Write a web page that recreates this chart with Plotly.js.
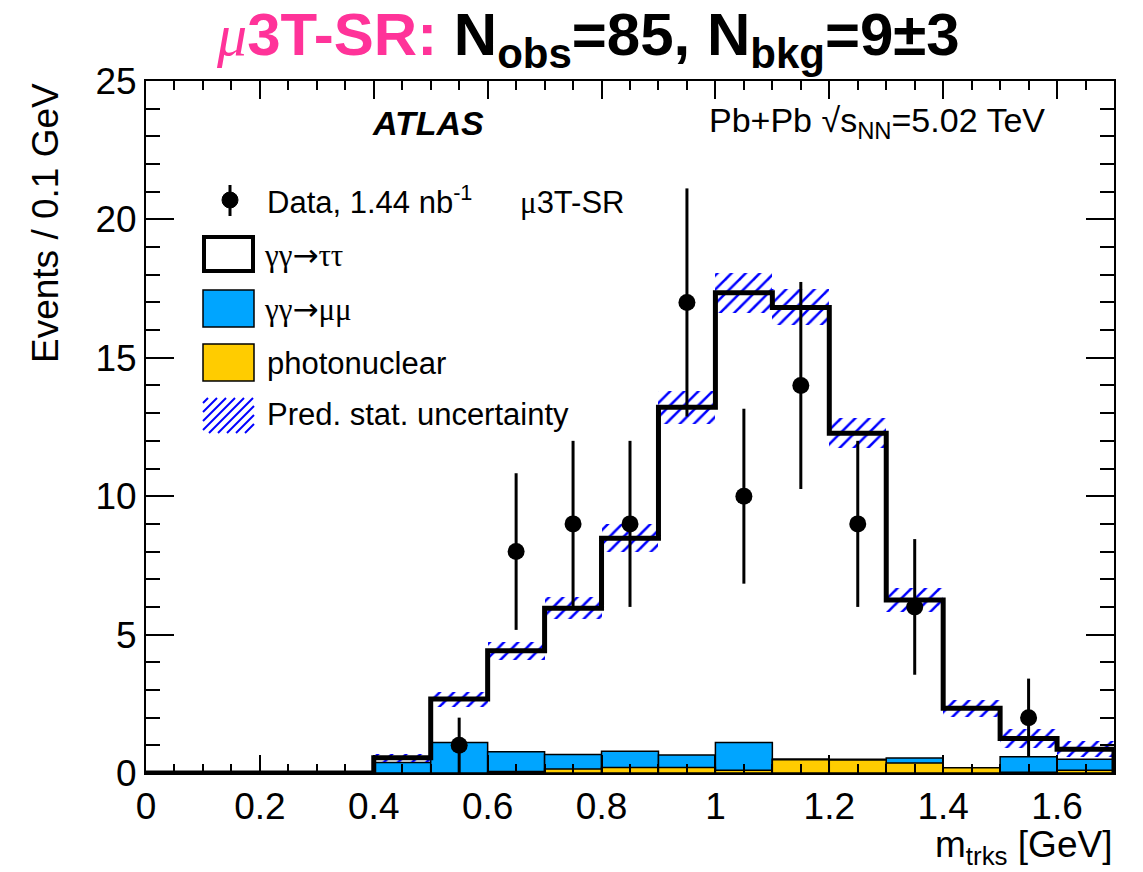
<!DOCTYPE html>
<html>
<head>
<meta charset="utf-8">
<script src="https://cdn.plot.ly/plotly-3.0.1.min.js"></script>
<style>html,body{margin:0;padding:0;background:#fff;}#chart{width:1143px;height:872px;}</style>
</head>
<body>
<div id="chart"></div>
<script>
// ---- data (bins of 0.1 GeV from 0 to 1.7 GeV) ----
const binCenters = [0.05,0.15,0.25,0.35,0.45,0.55,0.65,0.75,0.85,0.95,1.05,1.15,1.25,1.35,1.45,1.55,1.65];
const photonuclear = [0,0,0,0,0,0,0.05,0.14,0.2,0.2,0.1,0.48,0.47,0.36,0.19,0.03,0.1];
const gammaMuMu   = [0,0,0,0,0.38,1.10,0.72,0.53,0.59,0.45,1.0,0.03,0.03,0.18,0,0.56,0.4];
const gammaTauTau = [0,0,0,0,0.17,1.57,3.65,5.28,7.69,12.56,16.25,16.31,11.77,5.71,2.15,0.66,0.36];
const predStatUnc = [0,0,0,0,0.15,0.27,0.33,0.4,0.5,0.6,0.72,0.65,0.54,0.42,0.3,0.33,0.28];
const dataCounts  = [0,0,0,0,0,1,8,9,9,17,10,14,9,6,0,2,0];
const dataErrors  = [0,0,0,0,0,1,2.83,3,3,4.12,3.16,3.74,3,2.45,0,1.41,0];
const binWidth = 0.1;

// ---- derived stacks ----
const nz = v => (v > 0 ? v : null);
const lowStack = photonuclear.map((v,i)=>v);
const midStack = photonuclear.map((v,i)=>v + gammaMuMu[i]);
const total = midStack.map((v,i)=>v + gammaTauTau[i]);

// step outline of total prediction
const stepX = binCenters.map(c=>c - binWidth/2);
stepX.push(binCenters[binCenters.length-1] + binWidth/2);
stepX.push(binCenters[binCenters.length-1] + binWidth/2);
const stepY = total.slice();
stepY.push(total[total.length-1]);
stepY.push(0);

// data points (only non-empty bins)
const dX = [], dY = [], dE = [];
dataCounts.forEach((v,i)=>{ if(v>0){ dX.push(binCenters[i]); dY.push(v); dE.push(dataErrors[i]); } });

const BLUE = 'rgb(0,165,255)';
const YELLOW = 'rgb(255,204,0)';
const PINK = 'rgb(255,51,153)';
const FONT = 'Liberation Sans, Arial, Helvetica, sans-serif';
const SERIF = 'Liberation Serif, Times New Roman, serif';
const ARROW = "<span style='font-family:DejaVu Sans'>→</span>";

const traces = [
  { type:'bar', x:binCenters, y:midStack.map(nz), width:binWidth,
    marker:{color:BLUE, line:{color:'black', width:1.5}}, hoverinfo:'skip', showlegend:false },
  { type:'bar', x:binCenters, y:lowStack.map(nz), width:binWidth,
    marker:{color:YELLOW, line:{color:'black', width:1.5}}, hoverinfo:'skip', showlegend:false },
  { type:'scatter', mode:'lines', x:stepX, y:stepY,
    line:{color:'black', width:5, shape:'hv'}, hoverinfo:'skip', showlegend:false },
  { type:'bar', x:binCenters,
    base: total.map((v,i)=> predStatUnc[i]>0 ? v - predStatUnc[i] : null),
    y: predStatUnc.map(u=> u>0 ? 2*u : null), width:binWidth,
    marker:{color:'rgba(0,0,0,0)', line:{width:0},
      pattern:{shape:'/', fgcolor:'rgb(0,0,255)', fgopacity:1, bgcolor:'rgba(0,0,0,0)', size:10, solidity:0.25, fillmode:'overlay'}},
    hoverinfo:'skip', showlegend:false },
  { type:'scatter', mode:'markers', x:dX, y:dY,
    error_y:{type:'data', array:dE, visible:true, color:'black', thickness:3, width:0},
    marker:{color:'black', size:17}, hoverinfo:'skip', showlegend:false }
];

// ---- pixel helpers (plot area) ----
const L=146, R=1114, T=81, B=773;
const px = x => (x-L)/(R-L);
const py = y => (B-y)/(B-T);

const annotations = [
  { text:"<b><span style='color:"+PINK+"'><span style='font-family:"+SERIF+";font-style:italic;font-weight:normal'>μ</span>3T-SR:</span> N<sub>obs</sub>=85, N<sub>bkg</sub>=9±3</b>",
    x:px(588), y:py(39), xanchor:'center', yanchor:'middle', font:{family:FONT, size:60, color:'black'} },
  { text:"<b><i>ATLAS</i></b>", x:px(370), y:py(123), xanchor:'left', yanchor:'middle', font:{family:FONT, size:34, color:'black'} },
  { text:"Pb+Pb √s<sub>NN</sub>=5.02 TeV", x:px(707), y:py(122), xanchor:'left', yanchor:'middle', font:{family:FONT, size:34, color:'black'} },
  { text:"Data, 1.44 nb<sup>-1</sup>", x:px(265), y:py(200), xanchor:'left', yanchor:'middle', font:{family:FONT, size:31, color:'black'} },
  { text:"<span style='font-family:"+SERIF+"'>μ</span>3T-SR", x:px(518), y:py(202), xanchor:'left', yanchor:'middle', font:{family:FONT, size:31, color:'black'} },
  { text:"γγ"+ARROW+"ττ", x:px(262), y:py(255), xanchor:'left', yanchor:'middle', font:{family:SERIF, size:31, color:'black'} },
  { text:"γγ"+ARROW+"μμ", x:px(262), y:py(309), xanchor:'left', yanchor:'middle', font:{family:SERIF, size:31, color:'black'} },
  { text:"photonuclear", x:px(265), y:py(363), xanchor:'left', yanchor:'middle', font:{family:FONT, size:31, color:'black'} },
  { text:"Pred. stat. uncertainty", x:px(265), y:py(414), xanchor:'left', yanchor:'middle', font:{family:FONT, size:31, color:'black'} },
  { text:"m<sub>trks</sub> [GeV]", x:px(1114), y:py(847), xanchor:'right', yanchor:'middle', font:{family:FONT, size:37, color:'black'} },
  { text:"Events / 0.1 GeV", x:px(45), y:py(81), xanchor:'center', yanchor:'top', textangle:-90, font:{family:FONT, size:37, color:'black'} }
];
annotations.forEach(a=>{ a.xref='paper'; a.yref='paper'; a.showarrow=false; });

// ---- legend swatches ----
const shapes = [];
function rectPx(x0,y0,x1,y1,fill,lw){
  shapes.push({type:'rect', xref:'paper', yref:'paper', x0:px(x0), x1:px(x1), y0:py(y1), y1:py(y0),
    fillcolor:fill, line:{color:'black', width:lw}});
}
rectPx(204,237,253,271,'white',4);
rectPx(203,290,254,327,BLUE,1.5);
rectPx(203,344,254,381,YELLOW,1.5);
// hatched swatch
(function(){
  const x0=203,x1=254,y0=398,y1=433;
  for(let c=x0+y0+5; c<x1+y1; c+=9){
    const sx=Math.max(x0,c-y1), ex=Math.min(x1,c-y0);
    if(ex<=sx) continue;
    shapes.push({type:'line', xref:'paper', yref:'paper', x0:px(sx), y0:py(c-sx), x1:px(ex), y1:py(c-ex),
      line:{color:'rgb(0,0,255)', width:2}});
  }
})();
// data marker swatch
shapes.push({type:'line', xref:'paper', yref:'paper', x0:px(230), x1:px(230), y0:py(185), y1:py(216), line:{color:'black', width:3}});
shapes.push({type:'circle', xref:'paper', yref:'paper', x0:px(222), x1:px(238), y0:py(208), y1:py(192), fillcolor:'black', line:{color:'black', width:1}});

const layout = {
  width:1143, height:872,
  margin:{l:L, r:1143-R, t:T, b:872-B, pad:0},
  paper_bgcolor:'white', plot_bgcolor:'white',
  barmode:'overlay', bargap:0, showlegend:false, hovermode:false,
  font:{family:FONT, color:'black'},
  xaxis:{range:[0,1.7], tick0:0, dtick:0.2, ticks:'inside', ticklen:18, tickwidth:2, tickcolor:'black',
    showline:true, linewidth:2, linecolor:'black', mirror:'ticks', showgrid:false, zeroline:false,
    tickfont:{family:FONT, size:37, color:'black'},
    minor:{dtick:0.05, ticks:'inside', ticklen:9, tickwidth:2, tickcolor:'black', showgrid:false}},
  yaxis:{range:[0,25], tick0:0, dtick:5, ticks:'inside', ticklen:28, tickwidth:2, tickcolor:'black',
    showline:true, linewidth:2, linecolor:'black', mirror:'ticks', showgrid:false, zeroline:false,
    tickfont:{family:FONT, size:37, color:'black'},
    minor:{dtick:1, ticks:'inside', ticklen:14, tickwidth:2, tickcolor:'black', showgrid:false}},
  annotations:annotations,
  shapes:shapes
};

Plotly.newPlot('chart', traces, layout, {staticPlot:true, displayModeBar:false});
</script>
</body>
</html>
